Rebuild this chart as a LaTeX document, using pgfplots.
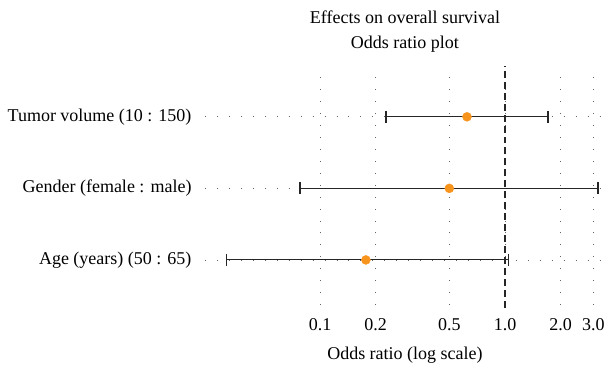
\documentclass[border=0pt]{standalone}
\usepackage{pgfplots}
\pgfplotsset{compat=1.18}
\usepackage{fontspec}
\setmainfont{Liberation Serif}
\usetikzlibrary{calc}
\definecolor{dotorange}{RGB}{247,148,30}
\definecolor{gridgray}{RGB}{100,100,100}
\begin{document}
\begin{tikzpicture}[x=1bp,y=1bp]
\begin{axis}[
  xmode=log,
  scale only axis,
  width=400bp, height=239bp,
  xmin=0.0239, xmax=3.47,
  ymin=0.37, ymax=3.71,
  xtick={0.1,0.2,0.5,1,2,3},
  xticklabels={0.1,0.2,0.5,1.0,2.0,3.0},
  ytick={1,2,3},
  yticklabels={Age (years) (50 : 65),Gender (female : male),Tumor volume (10 : 150)},
  /pgf/number format/assume math mode=true,
  axis line style={draw=none},
  tick style={draw=none},
  xmajorgrids, ymajorgrids,
  major grid style={gridgray, line width=0.8pt, dash pattern=on 0.8pt off 11.2pt},
  ticklabel style={font=\fontsize{18bp}{20bp}\selectfont},
  label style={font=\fontsize{18bp}{20bp}\selectfont},
  title style={font=\fontsize{18bp}{25bp}\selectfont, align=center, yshift=4bp},
  title={Effects on overall survival\\Odds ratio plot},
  xlabel={Odds ratio (log scale)},
  xticklabel style={yshift=-10bp},
  xlabel style={yshift=-9bp},
  yticklabel style={xshift=-10bp},
  clip=false,
]
\addplot[black!85, line width=1.2pt, dash pattern=on 7pt off 4pt] coordinates {(1,0.33) (1,3.71)};
% confidence intervals
\addplot[black!85, line width=0.9pt, mark=|, mark size=6bp, mark options={line width=1.3pt, solid}] coordinates {(0.227,3) (1.71,3)};
\addplot[black!85, line width=0.9pt, mark=|, mark size=6bp, mark options={line width=1.3pt, solid}] coordinates {(0.078,2) (3.18,2)};
\addplot[black!85, line width=0.9pt, mark=|, mark size=6bp, mark options={line width=1.3pt, solid}] coordinates {(0.0312,1) (1.04,1)};
% point estimates
\addplot[only marks, mark=*, mark size=4.5bp, mark options={fill=dotorange, draw=dotorange}] coordinates {(0.623,3) (0.5,2) (0.177,1)};
\end{axis}
\path[use as bounding box] ($(current axis.south west)+(-205bp,-60bp)$) rectangle ($(current axis.north east)+(7bp,66bp)$);
\end{tikzpicture}
\end{document}
